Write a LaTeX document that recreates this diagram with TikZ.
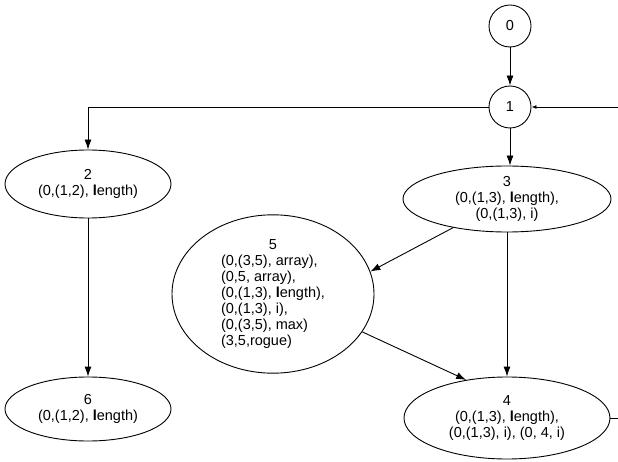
\documentclass[tikz,border=0pt]{standalone}
\usepackage{fontspec}
\setmainfont{Liberation Sans}
\usetikzlibrary{shapes.geometric,arrows.meta}
\newcommand{\bl}{\textbf{l}}
\begin{document}
\begin{tikzpicture}[x=1pt,y=-1pt,
  every node/.style={font=\fontsize{14.5}{16}\selectfont, inner sep=0pt, align=center},
  statecirc/.style={draw, circle, minimum size=42pt, line width=0.9pt},
  stateell/.style={draw, ellipse, line width=0.9pt},
  edge/.style={line width=0.9pt, -{Latex[length=10pt,width=7pt]}},
  smalledge/.style={line width=0.9pt, -{Latex[length=5pt,width=4pt]}},
  plainedge/.style={line width=0.9pt}]
\clip (0,0) rectangle (618,462);
\fill[white] (0,0) rectangle (618,462);

\node[statecirc] (n0) at (510,26) {0};
\node[statecirc] (n1) at (510,107) {1};
\node[stateell, minimum width=166pt, minimum height=68pt] (n2) at (88,184) {2\\(0,(1,2), \bl ength)};
\node[stateell, minimum width=166pt, minimum height=64pt] (n6) at (88,409) {6\\(0,(1,2), \bl ength)};
\node[stateell, minimum width=208pt, minimum height=66pt] (n3) at (507,199) {3\\(0,(1,3), \bl ength),\\(0,(1,3), i)};
\node[stateell, minimum width=202pt, minimum height=148pt] (n5) at (273,294)
  {\begin{tabular}{@{}l@{}}\multicolumn{1}{@{}c@{}}{5}\\(0,(3,5), array),\\(0,5, array),\\(0,(1,3), \bl ength),\\(0,(1,3), i),\\(0,(3,5), max)\\(3,5,rogue)\end{tabular}};
\node[stateell, minimum width=206pt, minimum height=82pt] (n4) at (507,418) {4\\(0,(1,3), \bl ength),\\(0,(1,3), i), (0, 4, i)};

\coordinate (r1) at (640,418);
\coordinate (r2) at (640,107);

\draw[edge] (n0) -- (n1);
\draw[edge] (n1) -- (n1 |- n3.north);
\draw[edge] (n1.west) -| (n2.north);
\draw[edge] (n2) -- (n6);
\draw[edge] (n3.208) -- (n5.13);
\draw[edge] (n3.south) -- (n4.north);
\draw[edge] (n5.337) -- (n4.137);
\draw[smalledge] (n4.east) -- (r1) -- (r2) -- (n1.east);
\end{tikzpicture}
\end{document}
